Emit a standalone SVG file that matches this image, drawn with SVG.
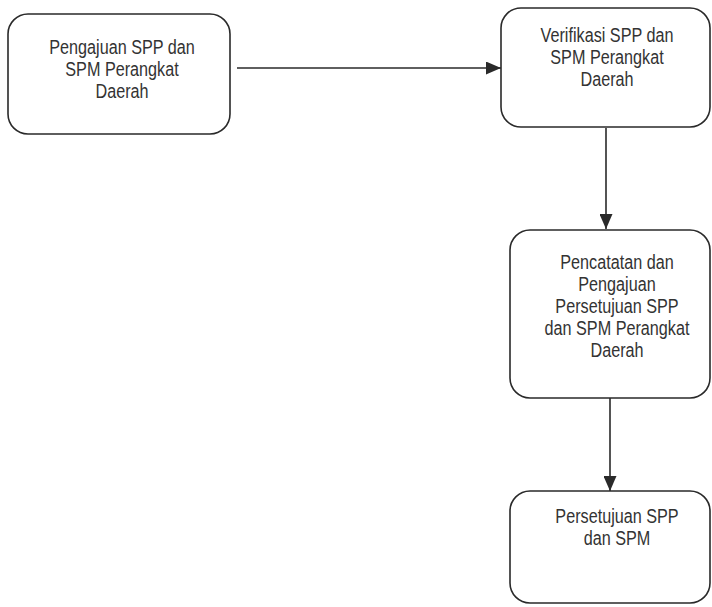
<svg xmlns="http://www.w3.org/2000/svg" width="712" height="607" viewBox="0 0 712 607">
  <style>
    .box { fill: #ffffff; stroke: #2a2a2a; stroke-width: 1.6; }
    .lbl { font-family: "Liberation Sans", Arial, sans-serif; font-size: 20px; fill: #333333; text-anchor: middle; }
    .edge { stroke: #2a2a2a; stroke-width: 1.6; fill: none; marker-end: url(#arrow); }
  </style>
  <defs>
    <marker id="arrow" viewBox="0 0 15 13" refX="15" refY="6.5" markerWidth="15" markerHeight="13" markerUnits="userSpaceOnUse" orient="auto">
      <path d="M0,0 L15,6.5 L0,13 z" fill="#2a2a2a"/>
    </marker>
  </defs>
  <rect width="712" height="607" fill="#ffffff"/>

  <g id="connectors">
    <line class="edge" x1="237" y1="68" x2="501" y2="68"/>
    <line class="edge" x1="606" y1="128" x2="606" y2="229"/>
    <line class="edge" x1="610" y1="398" x2="610" y2="491"/>
  </g>

  <g id="node-pengajuan">
    <rect class="box" x="8" y="14" width="222" height="120" rx="20" ry="20"/>
    <g transform="translate(122 0) scale(0.81 1)">
      <text class="lbl" x="0" y="54">Pengajuan SPP dan</text>
      <text class="lbl" x="0" y="76">SPM Perangkat</text>
      <text class="lbl" x="0" y="98">Daerah</text>
    </g>
  </g>

  <g id="node-verifikasi">
    <rect class="box" x="501" y="8" width="209" height="119" rx="20" ry="20"/>
    <g transform="translate(607 0) scale(0.81 1)">
      <text class="lbl" x="0" y="42">Verifikasi SPP dan</text>
      <text class="lbl" x="0" y="64">SPM Perangkat</text>
      <text class="lbl" x="0" y="86">Daerah</text>
    </g>
  </g>

  <g id="node-pencatatan">
    <rect class="box" x="510" y="230" width="200" height="168" rx="20" ry="20"/>
    <g transform="translate(617 0) scale(0.81 1)">
      <text class="lbl" x="0" y="269">Pencatatan dan</text>
      <text class="lbl" x="0" y="291">Pengajuan</text>
      <text class="lbl" x="0" y="313">Persetujuan SPP</text>
      <text class="lbl" x="0" y="335">dan SPM Perangkat</text>
      <text class="lbl" x="0" y="357">Daerah</text>
    </g>
  </g>

  <g id="node-persetujuan">
    <rect class="box" x="510" y="491" width="200" height="112" rx="20" ry="20"/>
    <g transform="translate(617 0) scale(0.81 1)">
      <text class="lbl" x="0" y="523">Persetujuan SPP</text>
      <text class="lbl" x="0" y="545">dan SPM</text>
    </g>
  </g>
</svg>
